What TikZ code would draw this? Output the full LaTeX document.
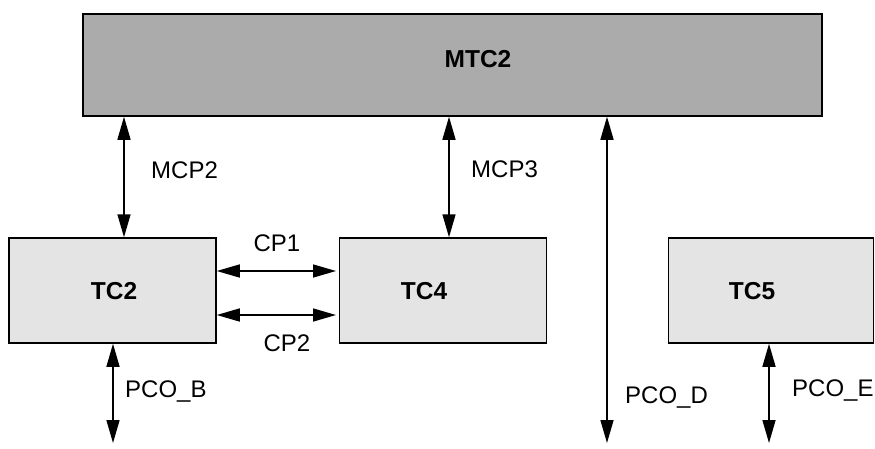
\documentclass[tikz,border=0pt]{standalone}
\usepackage{fontspec}
\setmainfont{Liberation Sans}
\usetikzlibrary{arrows.meta}
\definecolor{darkfill}{HTML}{ABABAB}
\definecolor{lightfill}{HTML}{E4E4E4}
\tikzset{
  bigbox/.style={draw=black, line width=1.5pt, fill=darkfill, inner sep=0pt},
  tcbox/.style={draw=black, line width=1.5pt, fill=lightfill, inner sep=0pt},
  boxlabel/.style={inner sep=0pt, font=\fontsize{24.5}{28}\selectfont\bfseries},
  linklabel/.style={inner sep=0pt, font=\fontsize{24}{28}\selectfont},
  biarrow/.style={{Triangle[length=23pt,width=13pt]}-{Triangle[length=23pt,width=13pt]}, line width=1.5pt}
}
\begin{document}
\begin{tikzpicture}[x=1pt,y=-1pt]
\useasboundingbox (0,0) rectangle (875,448);
% boxes
\node[bigbox, minimum width=739pt, minimum height=102pt] (mtc2) at (452.5,65) {};
\node[tcbox, minimum width=207pt, minimum height=105pt] (tc2) at (112.5,290.5) {};
\node[tcbox, minimum width=207pt, minimum height=105pt] (tc4) at (443,290.5) {};
\node[tcbox, minimum width=205pt, minimum height=105pt] (tc5) at (771,290.5) {};
% box labels
\node[boxlabel, anchor=base] (lmtc2) at (478,67) {MTC2};
\node[boxlabel, anchor=base] (ltc2) at (114,299) {TC2};
\node[boxlabel, anchor=base] (ltc4) at (424,299) {TC4};
\node[boxlabel, anchor=base] (ltc5) at (752,299) {TC5};
% x positions of vertical links, free ends
\coordinate (xmcp2) at (124,0);
\coordinate (xmcp3) at (449,0);
\coordinate (xpcod) at (607,0);
\coordinate (xpcob) at (113,0);
\coordinate (xpcoe) at (769,0);
\coordinate (ybot) at (0,443);
\coordinate (ycp1) at (0,271);
\coordinate (ycp2) at (0,315);
\coordinate (xcpend) at (336,0);
% vertical links
\draw[biarrow] (mtc2.south -| xmcp2) -- (tc2.north -| xmcp2);
\draw[biarrow] (mtc2.south -| xmcp3) -- (tc4.north -| xmcp3);
\draw[biarrow] (mtc2.south -| xpcod) -- (ybot -| xpcod);
\draw[biarrow] (tc2.south -| xpcob) -- (ybot -| xpcob);
\draw[biarrow] (tc5.south -| xpcoe) -- (ybot -| xpcoe);
% horizontal links
\draw[biarrow] (tc2.east |- ycp1) -- (xcpend |- ycp1);
\draw[biarrow] (tc2.east |- ycp2) -- (xcpend |- ycp2);
% link labels
\node[linklabel, anchor=base west] (lmcp2) at (151,178.5) {MCP2};
\node[linklabel, anchor=base west] (lmcp3) at (471,177.5) {MCP3};
\node[linklabel, anchor=base] (lcp1) at (277,251.5) {CP1};
\node[linklabel, anchor=base] (lcp2) at (287,351.5) {CP2};
\node[linklabel, anchor=base west] (lpcob) at (125,397.5) {PCO\_B};
\node[linklabel, anchor=base west] (lpcod) at (625,403.5) {PCO\_D};
\node[linklabel, anchor=base west] (lpcoe) at (792,396.5) {PCO\_E};
\end{tikzpicture}
\end{document}
